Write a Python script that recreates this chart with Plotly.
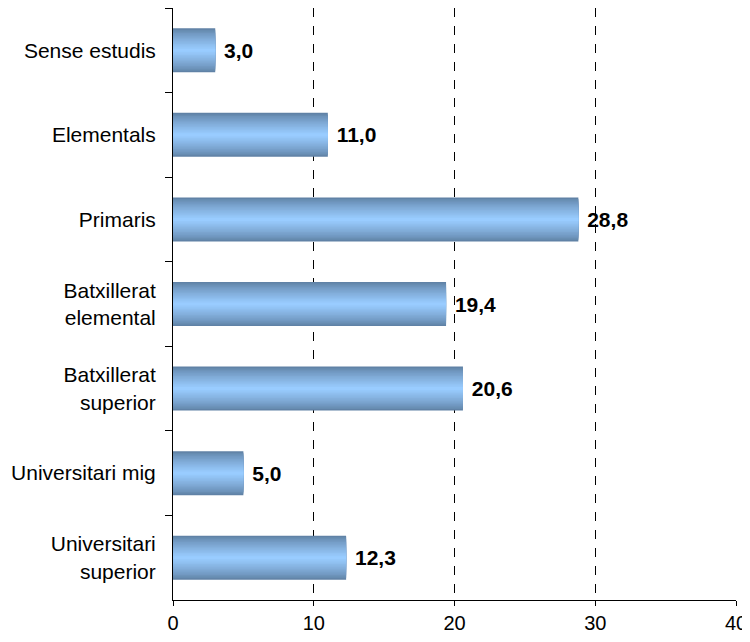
import plotly.graph_objects as go

# Nivell d'estudis (%)
categories = ["Sense estudis", "Elementals", "Primaris", "Batxillerat<br>elemental",
              "Batxillerat<br>superior", "Universitari mig", "Universitari<br>superior"]
values = [3.0, 11.0, 28.8, 19.4, 20.6, 5.0, 12.3]
x_ticks = [0, 10, 20, 30, 40]

# gradient across the bar thickness: dark edge -> light centre
dark = (96, 130, 166)
light = (153, 204, 255)
steps = 14
bar_width = 0.52

fig = go.Figure()
for i in range(steps):
    t = i / (steps - 1)
    c = tuple(round(dark[k] + (light[k] - dark[k]) * (t ** 0.8)) for k in range(3))
    w = bar_width * (1 - i / steps)
    fig.add_trace(go.Bar(
        y=categories, x=values, orientation="h",
        width=w,
        marker=dict(color="rgb(%d,%d,%d)" % c, line=dict(width=0)),
        hoverinfo="skip",
        showlegend=False,
    ))

# value labels on top of everything
fig.add_trace(go.Bar(
    y=categories, x=values, orientation="h",
    width=bar_width,
    marker=dict(color="rgba(0,0,0,0)", line=dict(width=0)),
    texttemplate="\u00a0%{x:.1f}",
    textposition="outside",
    constraintext="none",
    textfont=dict(family="Liberation Sans, Arial", size=21, color="black", weight="bold"),
    cliponaxis=False,
    hoverinfo="skip",
    showlegend=False,
))

# page body has an 8px margin, margins below allow for it
fig.update_layout(
    barmode="overlay",
    separators=",.",
    width=750, height=642,
    margin=dict(l=165, r=22, t=0, b=50, autoexpand=False),
    plot_bgcolor="white",
    paper_bgcolor="white",
    font=dict(family="Liberation Sans, Arial", color="black"),
    xaxis=dict(
        range=[0, 40],
        tickvals=x_ticks,
        automargin=False,
        showgrid=True, gridcolor="black", griddash="dash", gridwidth=1,
        zeroline=False,
        showline=True, linecolor="black", linewidth=1,
        ticks="outside", ticklen=5, tickcolor="black",
        tickfont=dict(size=20),
    ),
    yaxis=dict(
        autorange="reversed",
        type="category",
        automargin=False,
        tickson="boundaries",
        ticks="outside", ticklen=7, tickcolor="black",
        showline=True, linecolor="black", linewidth=1,
        showgrid=False,
        tickfont=dict(size=21),
        ticklabelstandoff=12,
    ),
)

fig.write_html("out.html")
